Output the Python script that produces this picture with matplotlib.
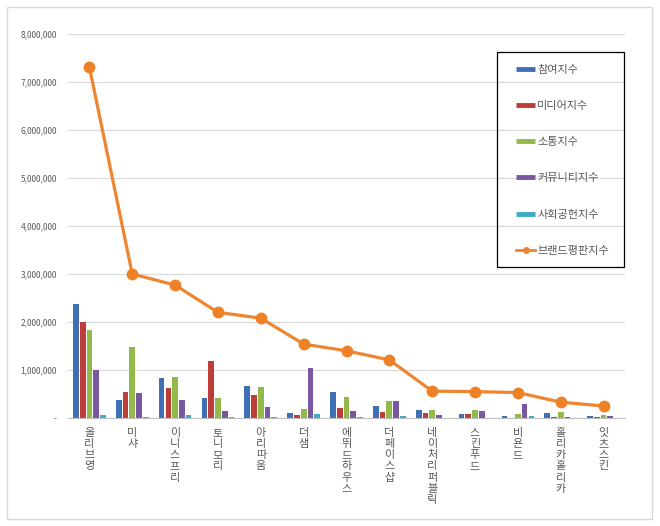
import numpy as np
import matplotlib
matplotlib.use('Agg')
import matplotlib.pyplot as plt
from matplotlib.lines import Line2D
from matplotlib.patches import Rectangle
from matplotlib.ticker import FuncFormatter

plt.rcParams['font.family'] = ['Noto Sans CJK KR', 'DejaVu Sans']

# 브랜드 이름
brands = ['올리브영', '미샤', '이니스프리', '토니모리', '아리따움', '더샘', '에뛰드하우스',
          '더페이스샵', '네이처리퍼블릭', '스킨푸드', '비욘드', '홀리카홀리카', '잇츠스킨']

# 지수 값
participation = [2380000, 370000, 830000, 420000, 660000, 100000, 550000,
                 260000, 160000, 77000, 35000, 100000, 35000]
media = [1990000, 540000, 630000, 1190000, 480000, 70000, 210000,
         130000, 110000, 77000, 5000, 20000, 30000]
communication = [1840000, 1480000, 850000, 410000, 640000, 180000, 430000,
                 360000, 170000, 160000, 77000, 120000, 70000]
community = [1000000, 520000, 370000, 140000, 230000, 1040000, 140000,
             360000, 70000, 140000, 300000, 30000, 35000]
social = [56000, 30000, 56000, 30000, 30000, 77000, 20000,
          40000, 10000, 10000, 35000, 5000, 5000]
brand_rep = [7310000, 3000000, 2770000, 2200000, 2080000, 1540000, 1400000,
             1210000, 560000, 550000, 530000, 330000, 250000]

series = [participation, media, communication, community, social]
names = ['참여지수', '미디어지수', '소통지수', '커뮤니티지수', '사회공헌지수']
colors = ['#3F70B6', '#BE3D39', '#93BA48', '#7A57A1', '#3BADC7']
line_color = '#EE8530'

fig = plt.figure(figsize=(6.6, 5.26), dpi=100)
ax = fig.add_axes([0.103, 0.2053, 0.844, 0.7301])

x = np.arange(len(brands))
step = 0.157
width = 0.133
for i, (vals, c) in enumerate(zip(series, colors)):
    ax.bar(x + (i - 2) * step, vals, width=width, color=c, zorder=2)

ax.plot(x, brand_rep, color=line_color, lw=2.3, marker='o', markersize=7.5,
        markerfacecolor='#EE8126', markeredgecolor='#EE8126', zorder=3)

ax.set_xlim(-0.5, len(brands) - 0.5)
ax.set_ylim(0, 8000000)
ax.set_yticks(np.arange(0, 8000001, 1000000))
ax.yaxis.set_major_formatter(FuncFormatter(lambda v, p: '-' if v == 0 else f'{int(v):,}'))
ax.grid(axis='y', color='#D9D9D9', lw=0.8, zorder=0)
ax.set_axisbelow(True)
for s in ['top', 'right', 'left']:
    ax.spines[s].set_visible(False)
ax.spines['bottom'].set_color('#BFBFBF')
ax.tick_params(axis='y', length=0, labelsize=6, labelcolor='#595959', pad=8)
ax.tick_params(axis='x', length=0, pad=7)
ax.set_xticks(x)
ax.set_xticklabels(['\n'.join(b) for b in brands], fontsize=8, color='#595959',
                   va='top', linespacing=1.15)

# 범례 (테두리는 따로 그림)
handles = [Line2D([], [], color=c, lw=3.5, solid_capstyle='butt') for c in colors]
handles.append(Line2D([], [], color=line_color, lw=2, marker='o', markersize=4))
fig.legend(handles, names + ['브랜드평판지수'], loc='upper left',
           bbox_to_anchor=(0.782, 0.877), fontsize=8, labelcolor='#595959',
           frameon=False, labelspacing=2.36, handlelength=1.7, handletextpad=0.2,
           borderpad=0, borderaxespad=0)
fig.patches.append(Rectangle((497 / 660, 1 - 267 / 526), 127 / 660, 215 / 526,
                             transform=fig.transFigure, fill=False,
                             edgecolor='black', lw=0.9))

fig.patches.append(Rectangle((0.0106, 0.0133), 0.977, 0.973, transform=fig.transFigure,
                             fill=False, edgecolor='#D9D9D9', lw=1))

fig.savefig('out.png', dpi=100)
